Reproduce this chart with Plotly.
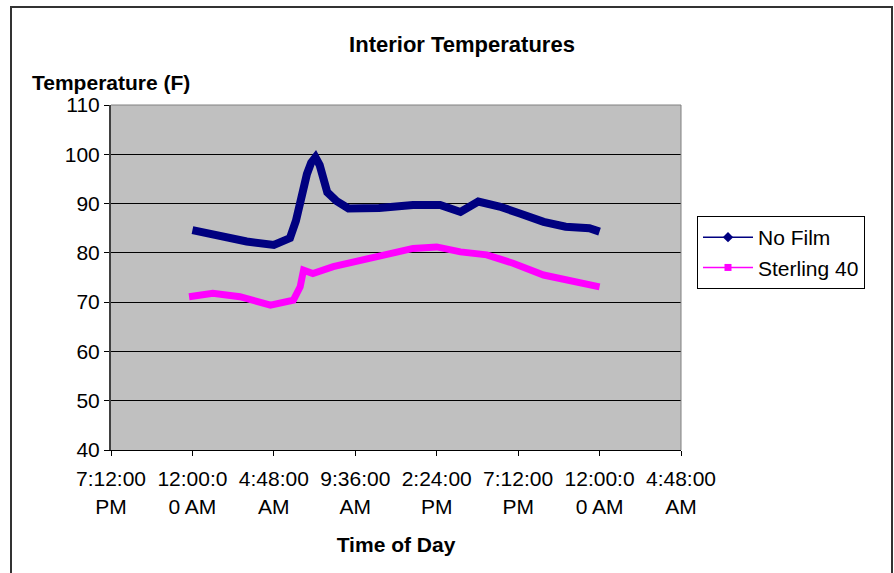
import plotly.graph_objects as go

# time in hours after midnight
hours_nofilm = [0.0, 1.2, 3.2, 4.8, 5.75, 6.1, 6.4, 6.75, 7.0, 7.25, 7.5, 7.7, 7.95, 8.5, 9.2,
                11.0, 13.0, 14.6, 15.8, 16.85, 18.1, 19.3, 20.7, 22.0, 23.4, 24.0]
temp_nofilm = [84.6, 83.6, 82.3, 81.6, 83.0, 86.5, 91.5, 96.0, 98.3, 99.4, 97.8, 95.0, 92.3, 90.5, 89.0,
               89.1, 89.7, 89.7, 88.3, 90.4, 89.4, 88.0, 86.3, 85.3, 85.0, 84.3]

hours_sterling = [-0.2, 1.2, 2.8, 4.6, 5.95, 6.35, 6.55, 7.1, 8.3, 9.9, 11.45, 13.0,
                  14.4, 15.8, 17.35, 18.9, 20.7, 22.05, 23.25, 24.0]
temp_sterling = [71.1, 71.8, 71.1, 69.4, 70.4, 73.1, 76.5, 75.8, 77.2, 78.5, 79.9, 80.9,
                 81.2, 80.2, 79.6, 77.9, 75.5, 74.5, 73.5, 73.1]

x_tickvals = [-4.8, 0.0, 4.8, 9.6, 14.4, 19.2, 24.0, 28.8]
x_ticktext = ["7:12:00<br>PM", "12:00:0<br>0 AM", "4:48:00<br>AM", "9:36:00<br>AM",
              "2:24:00<br>PM", "7:12:00<br>PM", "12:00:0<br>0 AM", "4:48:00<br>AM"]
y_tickvals = [40, 50, 60, 70, 80, 90, 100, 110]

NAVY = "#000080"
MAGENTA = "#FF00FF"
FONT = "Liberation Sans, Arial, sans-serif"

fig = go.Figure()
fig.add_trace(go.Scatter(x=hours_nofilm, y=temp_nofilm, mode="lines",
                         line=dict(color=NAVY, width=8), showlegend=False,
                         hoverinfo="skip"))
fig.add_trace(go.Scatter(x=hours_sterling, y=temp_sterling, mode="lines",
                         line=dict(color=MAGENTA, width=7), showlegend=False,
                         hoverinfo="skip"))
# legend entries
fig.add_trace(go.Scatter(x=[None], y=[None], mode="lines+markers", name="No Film",
                         line=dict(color=NAVY, width=1.5),
                         marker=dict(symbol="diamond", size=8, color=NAVY),
                         legendgroup="a"))
fig.add_trace(go.Scatter(x=[None], y=[None], mode="lines+markers", name="Sterling 40",
                         line=dict(color=MAGENTA, width=1.5),
                         marker=dict(symbol="square", size=7, color=MAGENTA),
                         legendgroup="b"))

L, R, T, B = 111, 681, 105, 450
W, H = 894, 573
pw, ph = R - L, B - T

def px(xp):
    return (xp - L) / pw

def py(yp):
    return (B - yp) / ph

fig.update_layout(
    width=W, height=H,
    margin=dict(l=L, r=W - R, t=T, b=H - B, pad=0),
    paper_bgcolor="white",
    plot_bgcolor="#C0C0C0",
    font=dict(family=FONT, size=21, color="black"),
    title=dict(text="<b>Interior Temperatures</b>", x=462 / W, xanchor="center",
               y=1 - 44 / H, yanchor="middle", font=dict(size=22, family=FONT)),
    showlegend=True,
    legend=dict(x=px(697), y=py(216), xanchor="left", yanchor="top",
                bordercolor="black", borderwidth=1, bgcolor="white",
                traceorder="grouped", tracegroupgap=0, itemwidth=50,
                font=dict(size=21, family=FONT)),
    xaxis=dict(range=[-4.8, 28.8], tickmode="array", tickvals=x_tickvals,
               ticktext=x_ticktext, showgrid=False, zeroline=False,
               showline=True, linecolor="black", linewidth=1,
               ticks="outside", ticklen=5, tickcolor="black",
               ticklabelstandoff=5,
               title=dict(text="<b>Time of Day</b>", standoff=20,
                          font=dict(size=21, family=FONT))),
    yaxis=dict(range=[40, 110], tickmode="array", tickvals=y_tickvals,
               showgrid=True, gridcolor="black", gridwidth=1, zeroline=False,
               showline=True, linecolor="#404040", linewidth=2,
               ticks="outside", ticklen=5, tickcolor="black"),
    annotations=[dict(text="<b>Temperature (F)</b>", xref="paper", yref="paper",
                      x=px(30), y=py(82), xanchor="left", yanchor="middle",
                      showarrow=False, font=dict(size=21, family=FONT))],
    shapes=[
        dict(type="line", xref="paper", yref="paper", x0=0, x1=1, y0=1, y1=1,
             line=dict(color="#808080", width=1), layer="above"),
        dict(type="line", xref="paper", yref="paper", x0=1, x1=1, y0=0, y1=1,
             line=dict(color="#808080", width=1), layer="above"),
        dict(type="rect", xref="paper", yref="paper", x0=px(11), x1=px(892),
             y0=py(590), y1=py(7), line=dict(color="#333333", width=2),
             fillcolor="rgba(0,0,0,0)", layer="below"),
    ],
)

fig.write_html("out.html", config={"displayModeBar": False},
               post_script="document.body.style.margin='0px';document.body.style.overflow='hidden';")
